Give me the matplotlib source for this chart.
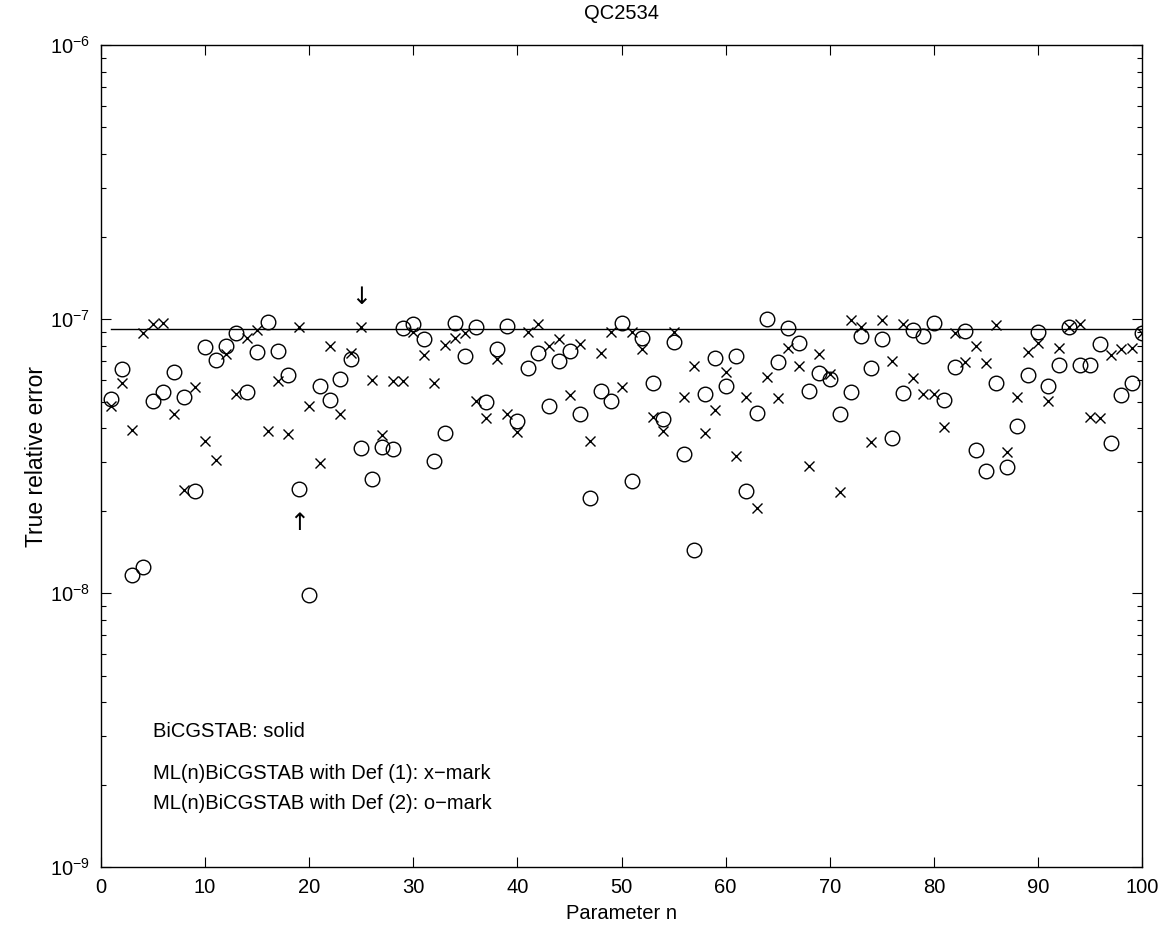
import numpy as np
import matplotlib
matplotlib.use("Agg")
import matplotlib.pyplot as plt
from matplotlib.ticker import LogLocator, MultipleLocator, NullFormatter

plt.rcParams['font.family'] = ['Liberation Sans', 'DejaVu Sans']
plt.rcParams['mathtext.fontset'] = 'custom'
plt.rcParams['mathtext.rm'] = 'Liberation Sans'
plt.rcParams['mathtext.it'] = 'Liberation Sans:italic'

# parameter n
n_values = np.arange(1, 101)

# BiCGSTAB reference error (solid line)
bicgstab_err = 9.2e-8

# ML(n)BiCGSTAB with Def (1): x-mark
def1_err = [
    4.82e-8, 5.86e-8, 3.93e-8, 8.86e-8, 9.56e-8, 9.70e-8, 4.50e-8, 2.37e-8, 5.63e-8, 3.60e-8,
    3.05e-8, 7.45e-8, 5.32e-8, 8.50e-8, 9.12e-8, 3.90e-8, 5.96e-8, 3.81e-8, 9.37e-8, 4.83e-8,
    2.99e-8, 7.99e-8, 4.52e-8, 7.53e-8, 9.37e-8, 5.99e-8, 3.77e-8, 5.94e-8, 5.94e-8, 9.00e-8,
    7.40e-8, 5.83e-8, 8.06e-8, 8.50e-8, 8.86e-8, 5.03e-8, 4.34e-8, 7.17e-8, 4.52e-8, 3.88e-8,
    9.00e-8, 9.58e-8, 7.97e-8, 8.43e-8, 5.30e-8, 8.10e-8, 3.59e-8, 7.50e-8, 8.95e-8, 5.66e-8,
    8.95e-8, 7.77e-8, 4.40e-8, 3.91e-8, 8.95e-8, 5.20e-8, 6.73e-8, 3.85e-8, 4.65e-8, 6.42e-8,
    3.17e-8, 5.18e-8, 2.04e-8, 6.13e-8, 5.14e-8, 7.82e-8, 6.75e-8, 2.92e-8, 7.43e-8, 6.28e-8,
    2.34e-8, 9.92e-8, 9.37e-8, 3.57e-8, 9.92e-8, 7.03e-8, 9.58e-8, 6.11e-8, 5.32e-8, 5.32e-8,
    4.02e-8, 8.86e-8, 6.99e-8, 7.99e-8, 6.93e-8, 9.48e-8, 3.28e-8, 5.18e-8, 7.60e-8, 8.19e-8,
    5.03e-8, 7.82e-8, 9.37e-8, 9.56e-8, 4.38e-8, 4.34e-8, 7.39e-8, 7.75e-8, 7.82e-8, 8.86e-8,
]

# ML(n)BiCGSTAB with Def (2): o-mark
def2_err = [
    5.10e-8, 6.55e-8, 1.16e-8, 1.24e-8, 5.03e-8, 5.40e-8, 6.40e-8, 5.18e-8, 2.36e-8, 7.90e-8,
    7.10e-8, 8.00e-8, 8.90e-8, 5.40e-8, 7.60e-8, 9.75e-8, 7.66e-8, 6.27e-8, 2.39e-8, 9.80e-9,
    5.70e-8, 5.06e-8, 6.06e-8, 7.17e-8, 3.38e-8, 2.61e-8, 3.42e-8, 3.35e-8, 9.25e-8, 9.56e-8,
    8.43e-8, 3.03e-8, 3.83e-8, 9.70e-8, 7.33e-8, 9.33e-8, 5.00e-8, 7.80e-8, 9.45e-8, 4.26e-8,
    6.60e-8, 7.50e-8, 4.83e-8, 7.00e-8, 7.62e-8, 4.52e-8, 2.23e-8, 5.47e-8, 5.03e-8, 9.70e-8,
    2.56e-8, 8.50e-8, 5.86e-8, 4.30e-8, 8.26e-8, 3.22e-8, 1.44e-8, 5.34e-8, 7.19e-8, 5.70e-8,
    7.30e-8, 2.36e-8, 4.55e-8, 9.97e-8, 6.95e-8, 9.30e-8, 8.20e-8, 5.47e-8, 6.34e-8, 6.06e-8,
    4.52e-8, 5.42e-8, 8.69e-8, 6.63e-8, 8.47e-8, 3.69e-8, 5.35e-8, 9.12e-8, 8.69e-8, 9.70e-8,
    5.06e-8, 6.66e-8, 9.06e-8, 3.34e-8, 2.79e-8, 5.83e-8, 2.89e-8, 4.07e-8, 6.27e-8, 8.95e-8,
    5.70e-8, 6.78e-8, 9.37e-8, 6.78e-8, 6.78e-8, 8.08e-8, 3.52e-8, 5.30e-8, 5.86e-8, 8.86e-8,
]

# arrows marking two special cases: (n, value)
arrow_down = (25, 1.2e-7)
arrow_up = (19, 1.8e-8)

FS = 14.5


def main():
    fig = plt.figure(figsize=(11.69, 9.30), dpi=100)
    ax = fig.add_axes([0.0864, 0.0677, 0.8906, 0.8839])

    ax.plot(n_values, np.full(n_values.size, bicgstab_err), color="k", lw=1.0)
    ax.plot(n_values, def1_err, ls="none", marker="x", ms=7, mew=1.0, color="k")
    ax.plot(n_values, def2_err, ls="none", marker="o", ms=10.5, mew=1.0,
            mfc="none", mec="k")

    ax.text(arrow_down[0], arrow_down[1], "\u2193", ha="center", va="center",
            fontsize=17, family=["DejaVu Sans"])
    ax.text(arrow_up[0], arrow_up[1], "\u2191", ha="center", va="center",
            fontsize=17, family=["DejaVu Sans"])

    ax.set_yscale("log")
    ax.set_xlim(0, 100)
    ax.set_ylim(1e-9, 1e-6)
    ax.xaxis.set_major_locator(MultipleLocator(10))
    ax.yaxis.set_major_locator(LogLocator(base=10))
    ax.yaxis.set_minor_locator(LogLocator(base=10, subs=np.arange(2, 10)))
    ax.yaxis.set_minor_formatter(NullFormatter())

    ax.tick_params(which="both", direction="in", top=True, right=True,
                   labelsize=FS, width=0.8)
    ax.tick_params(which="major", length=7, pad=8)
    ax.tick_params(which="minor", length=3.6)
    for s in ax.spines.values():
        s.set_linewidth(1.0)

    ax.set_title("QC2534", fontsize=FS, pad=19)
    ax.set_xlabel("Parameter n", fontsize=FS, labelpad=5)
    ax.set_ylabel("True relative error", fontsize=16.5, labelpad=1)

    ax.text(0.05, 0.165, "BiCGSTAB: solid", transform=ax.transAxes,
            fontsize=FS, va="center")
    ax.text(0.05, 0.114, "ML(n)BiCGSTAB with Def (1): x\u2212mark",
            transform=ax.transAxes, fontsize=FS, va="center")
    ax.text(0.05, 0.077, "ML(n)BiCGSTAB with Def (2): o\u2212mark",
            transform=ax.transAxes, fontsize=FS, va="center")

    fig.savefig("out.png", dpi=100)


if __name__ == "__main__":
    main()
